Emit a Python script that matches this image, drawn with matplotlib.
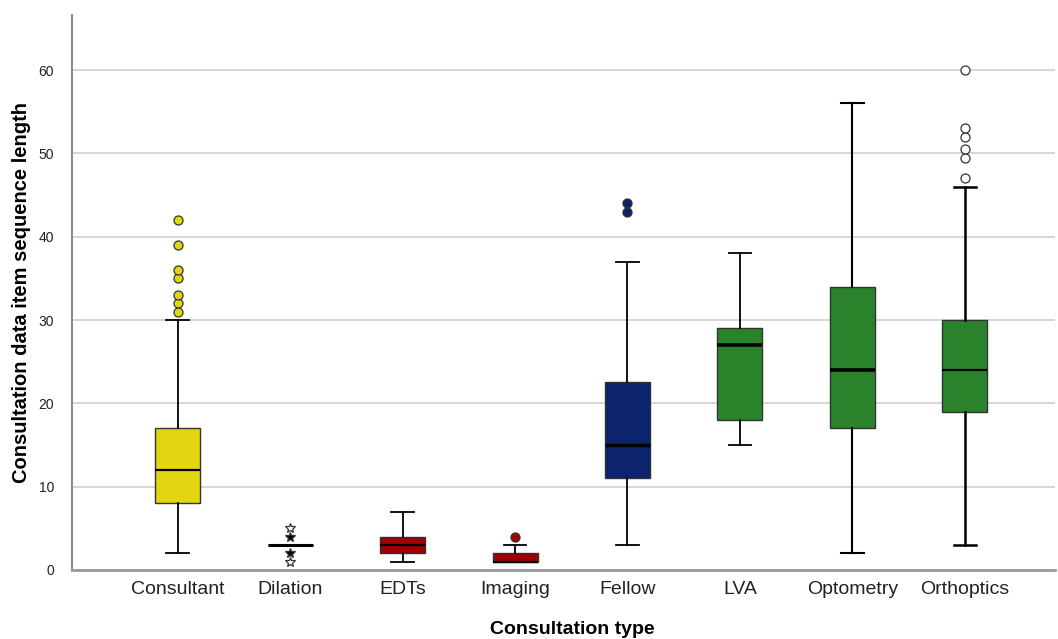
import matplotlib.pyplot as plt

plt.rcParams['font.family'] = ['Liberation Sans', 'DejaVu Sans']

# box statistics
categories = ['Consultant', 'Dilation', 'EDTs', 'Imaging', 'Fellow', 'LVA', 'Optometry', 'Orthoptics']
whislo = [2, 3, 1, 1, 3, 15, 2, 3]
q1 = [8, 3, 2, 1, 11, 18, 17, 19]
med = [12, 3, 3, 1, 15, 27, 24, 24]
q3 = [17, 3, 4, 2, 22.5, 29, 34, 30]
whishi = [30, 3, 7, 3, 37, 38, 56, 46]
fliers = [
    [31, 32, 33, 35, 36, 39, 42],
    [2, 4],
    [],
    [4],
    [43, 44],
    [],
    [],
    [47, 49.5, 50.5, 52, 53, 60],
]
# Dilation extremes drawn as open stars
dilation_open = [1, 5]

box_colors = ['#E2D610', '#A00000', '#A00000', '#A00000', '#0C246E', '#2A822A', '#2A822A', '#2A822A']
flier_face = ['#E2D610', 'black', 'none', '#A00000', '#0C246E', 'none', 'none', 'white']
flier_marker = ['o', '*', 'o', 'o', 'o', 'o', 'o', 'o']
median_lw = [1.6, 2.2, 1.6, 1.6, 2.4, 2.6, 2.6, 1.6]
whisker_lw = [1.3, 1.3, 1.3, 1.3, 1.3, 1.3, 1.5, 1.8]

fig = plt.figure(figsize=(10.58, 6.39), dpi=100)
ax = fig.add_axes([0.068, 0.108, 0.929, 0.8685])

for i, name in enumerate(categories):
    stat = {
        'label': name, 'whislo': whislo[i], 'q1': q1[i], 'med': med[i],
        'q3': q3[i], 'whishi': whishi[i], 'fliers': fliers[i],
    }
    ax.bxp([stat], positions=[i + 1], widths=0.4, patch_artist=True,
           showfliers=True, manage_ticks=False,
           boxprops=dict(facecolor=box_colors[i], edgecolor='#333333', linewidth=1.0),
           medianprops=dict(color='black', linewidth=median_lw[i]),
           whiskerprops=dict(color='black', linewidth=whisker_lw[i]),
           capprops=dict(color='black', linewidth=whisker_lw[i]),
           capwidths=0.2,
           flierprops=dict(marker=flier_marker[i], markerfacecolor=flier_face[i],
                           markeredgecolor='#333333', markersize=7 if i == 1 else 6.5,
                           markeredgewidth=0.9, linestyle='none'),
           zorder=3)

ax.plot([2] * len(dilation_open), dilation_open, linestyle='none', marker='*',
        markersize=7, markerfacecolor='white', markeredgecolor='#333333',
        markeredgewidth=0.9, zorder=4)

ax.set_xticks(range(1, len(categories) + 1))
ax.set_xticklabels(categories, fontsize=14, color='#222222')
ax.set_xlim(0.06, 8.8)
ax.set_ylim(0, 66.6)
ax.set_yticks([0, 10, 20, 30, 40, 50, 60])
ax.tick_params(axis='y', labelsize=10, length=0, pad=13, labelcolor='#222222')
ax.tick_params(axis='x', length=0, pad=8)

ax.yaxis.grid(True, color='#cfcfcf', linewidth=1.2, zorder=0)
ax.set_axisbelow(True)
for side in ['top', 'right']:
    ax.spines[side].set_visible(False)
ax.spines['left'].set_color('#8c8c8c')
ax.spines['left'].set_linewidth(1.5)
ax.spines['bottom'].set_color('#9a9a9a')
ax.spines['bottom'].set_linewidth(2)

fig.text(0.541, 1 - 621 / 639, 'Consultation type', ha='center', va='top',
         fontsize=14, fontweight='bold')
fig.text(22 / 1058, 0.542, 'Consultation data item sequence length', ha='center',
         va='center', rotation=90, fontsize=14.5, fontweight='bold')

fig.savefig('out.png', dpi=100)
